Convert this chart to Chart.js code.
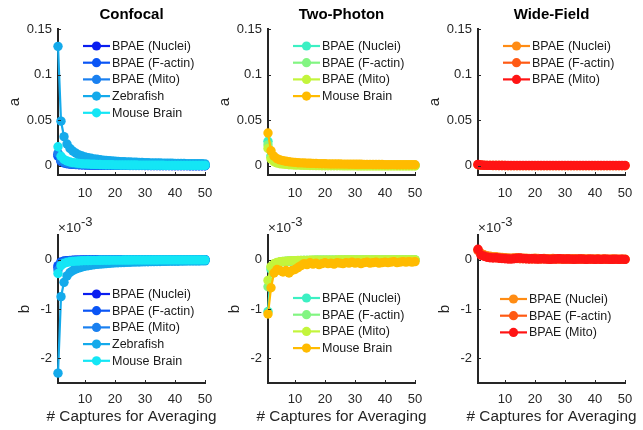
<!DOCTYPE html>
<html>
<head>
<meta charset="utf-8">
<script src="https://cdn.jsdelivr.net/npm/chart.js@4.4.0/dist/chart.umd.min.js"></script>
<style>
  body { margin: 0; background: #fff; width: 643px; height: 430px; position: relative; overflow: hidden; }
  canvas { position: absolute; }
</style>
</head>
<body>
<canvas id="confA" width="235" height="215" style="left:0px;top:0px"></canvas>
<canvas id="tpA" width="235" height="215" style="left:210px;top:0px"></canvas>
<canvas id="wfA" width="223" height="215" style="left:420px;top:0px"></canvas>
<canvas id="confB" width="235" height="215" style="left:0px;top:215px"></canvas>
<canvas id="tpB" width="235" height="215" style="left:210px;top:215px"></canvas>
<canvas id="wfB" width="223" height="215" style="left:420px;top:215px"></canvas>
<script>
// x values (number of captures)
const captures = [1,2,3,4,5,6,7,8,9,10,11,12,13,14,15,16,17,18,19,20,21,22,23,24,25,26,27,28,29,30,31,32,33,34,35,36,37,38,39,40,41,42,43,44,45,46,47,48,49,50];
const xTicks = [10, 20, 30, 40, 50];
const aTicks = [0, 0.05, 0.1, 0.15];
const aTickLabels = ['0', '0.05', '0.1', '0.15'];
const bTicks = [-2, -1, 0];          // in units of 1e-3
const bTickLabels = ['-2', '-1', '0'];

// series names
const confNames = ['BPAE (Nuclei)', 'BPAE (F-actin)', 'BPAE (Mito)', 'Zebrafish', 'Mouse Brain'];
const tpNames = ['BPAE (Nuclei)', 'BPAE (F-actin)', 'BPAE (Mito)', 'Mouse Brain'];
const wfNames = ['BPAE (Nuclei)', 'BPAE (F-actin)', 'BPAE (Mito)'];

// colours
const confColors = ['#0a1ef0', '#0a55f5', '#1a80f0', '#14aaeb', '#14e6f5'];
const tpColors = ['#3cf0c3', '#82f582', '#c3f53c', '#ffbb00'];
const wfColors = ['#ff8c14', '#ff5a14', '#ff1414'];

// Confocal, a
const confA_nuclei = [0.0125,0.0056,0.0037,0.0028,0.0022,0.0019,0.0016,0.0014,0.0013,0.0012,0.0011,0.0010,0.0009,0.0009,0.0008,0.0008,0.0007,0.0007,0.0007,0.0006,0.0006,0.0006,0.0006,0.0005,0.0005,0.0005,0.0005,0.0005,0.0005,0.0004,0.0004,0.0004,0.0004,0.0004,0.0004,0.0004,0.0004,0.0004,0.0003,0.0003,0.0003,0.0003,0.0003,0.0003,0.0003,0.0003,0.0003,0.0003,0.0003,0.0003];
const confA_factin = [0.0105,0.0048,0.0032,0.0024,0.0019,0.0016,0.0014,0.0012,0.0011,0.0010,0.0009,0.0009,0.0008,0.0008,0.0007,0.0007,0.0006,0.0006,0.0006,0.0005,0.0005,0.0005,0.0005,0.0005,0.0004,0.0004,0.0004,0.0004,0.0004,0.0004,0.0004,0.0003,0.0003,0.0003,0.0003,0.0003,0.0003,0.0003,0.0003,0.0003,0.0003,0.0003,0.0003,0.0003,0.0002,0.0002,0.0002,0.0002,0.0002,0.0002];
const confA_mito = [0.0140,0.0065,0.0043,0.0032,0.0026,0.0022,0.0019,0.0017,0.0015,0.0014,0.0013,0.0012,0.0011,0.0010,0.0010,0.0009,0.0009,0.0008,0.0008,0.0007,0.0007,0.0007,0.0007,0.0006,0.0006,0.0006,0.0006,0.0005,0.0005,0.0005,0.0005,0.0005,0.0005,0.0005,0.0004,0.0004,0.0004,0.0004,0.0004,0.0004,0.0004,0.0004,0.0004,0.0004,0.0003,0.0003,0.0003,0.0003,0.0003,0.0003];
const confA_zebra = [0.131,0.049,0.032,0.024,0.019,0.0160,0.0138,0.0121,0.0108,0.0098,0.0090,0.0083,0.0077,0.0072,0.0067,0.0063,0.0060,0.0057,0.0054,0.0051,0.0049,0.0047,0.0045,0.0043,0.0042,0.0040,0.0039,0.0038,0.0037,0.0035,0.0034,0.0033,0.0033,0.0032,0.0031,0.0030,0.0029,0.0029,0.0028,0.0027,0.0027,0.0026,0.0026,0.0025,0.0025,0.0024,0.0024,0.0023,0.0023,0.0022];
const confA_mouse = [0.021,0.0105,0.0070,0.0053,0.0043,0.0036,0.0031,0.0027,0.0024,0.0022,0.0020,0.0018,0.0017,0.0016,0.0015,0.0014,0.0013,0.0012,0.0012,0.0011,0.0011,0.0010,0.0010,0.0010,0.0009,0.0009,0.0009,0.0008,0.0008,0.0008,0.0008,0.0007,0.0007,0.0007,0.0007,0.0007,0.0006,0.0006,0.0006,0.0006,0.0006,0.0006,0.0006,0.0005,0.0005,0.0005,0.0005,0.0005,0.0005,0.0005];

// Confocal, b (x1e-3)
const confB_nuclei = [-0.16,-0.06,-0.035,-0.025,-0.02,-0.016,-0.013,-0.011,-0.010,-0.009,-0.008,-0.007,-0.007,-0.006,-0.006,-0.005,-0.005,-0.005,-0.004,-0.004,-0.004,-0.004,-0.004,-0.004,-0.003,-0.003,-0.003,-0.003,-0.003,-0.003,-0.003,-0.003,-0.003,-0.003,-0.002,-0.002,-0.002,-0.002,-0.002,-0.002,-0.002,-0.002,-0.002,-0.002,-0.002,-0.002,-0.002,-0.002,-0.002,-0.002];
const confB_factin = [-0.12,-0.045,-0.028,-0.02,-0.016,-0.013,-0.011,-0.009,-0.008,-0.007,-0.007,-0.006,-0.006,-0.005,-0.005,-0.004,-0.004,-0.004,-0.004,-0.003,-0.003,-0.003,-0.003,-0.003,-0.003,-0.003,-0.002,-0.002,-0.002,-0.002,-0.002,-0.002,-0.002,-0.002,-0.002,-0.002,-0.002,-0.002,-0.002,-0.002,-0.001,-0.001,-0.001,-0.001,-0.001,-0.001,-0.001,-0.001,-0.001,-0.001];
const confB_mito = [-0.21,-0.08,-0.05,-0.035,-0.028,-0.022,-0.019,-0.016,-0.014,-0.012,-0.011,-0.010,-0.009,-0.009,-0.008,-0.007,-0.007,-0.007,-0.006,-0.006,-0.006,-0.005,-0.005,-0.005,-0.005,-0.004,-0.004,-0.004,-0.004,-0.004,-0.004,-0.004,-0.003,-0.003,-0.003,-0.003,-0.003,-0.003,-0.003,-0.003,-0.003,-0.003,-0.003,-0.002,-0.002,-0.002,-0.002,-0.002,-0.002,-0.002];
const confB_zebra = [-2.3,-0.75,-0.46,-0.33,-0.26,-0.22,-0.19,-0.165,-0.148,-0.134,-0.122,-0.112,-0.103,-0.096,-0.089,-0.084,-0.079,-0.074,-0.070,-0.066,-0.063,-0.060,-0.057,-0.054,-0.052,-0.050,-0.048,-0.046,-0.044,-0.043,-0.041,-0.040,-0.039,-0.037,-0.036,-0.035,-0.034,-0.033,-0.032,-0.031,-0.031,-0.030,-0.029,-0.028,-0.028,-0.027,-0.026,-0.026,-0.025,-0.025];
const confB_mouse = [-0.28,-0.12,-0.075,-0.055,-0.043,-0.035,-0.030,-0.026,-0.023,-0.020,-0.018,-0.017,-0.015,-0.014,-0.013,-0.012,-0.011,-0.011,-0.010,-0.010,-0.009,-0.009,-0.008,-0.008,-0.008,-0.007,-0.007,-0.007,-0.007,-0.006,-0.006,-0.006,-0.006,-0.006,-0.005,-0.005,-0.005,-0.005,-0.005,-0.005,-0.005,-0.004,-0.004,-0.004,-0.004,-0.004,-0.004,-0.004,-0.004,-0.004];

// Two-photon, a
const tpA_nuclei = [0.027,0.011,0.0070,0.0052,0.0042,0.0035,0.0030,0.0027,0.0024,0.0022,0.0020,0.0018,0.0017,0.0016,0.0015,0.0014,0.0013,0.0012,0.0012,0.0011,0.0011,0.0010,0.0010,0.0010,0.0009,0.0009,0.0009,0.0008,0.0008,0.0008,0.0008,0.0007,0.0007,0.0007,0.0007,0.0007,0.0006,0.0006,0.0006,0.0006,0.0006,0.0006,0.0006,0.0005,0.0005,0.0005,0.0005,0.0005,0.0005,0.0005];
const tpA_factin = [0.023,0.0095,0.0060,0.0045,0.0036,0.0030,0.0026,0.0023,0.0021,0.0019,0.0017,0.0016,0.0015,0.0014,0.0013,0.0012,0.0011,0.0011,0.0010,0.0010,0.0009,0.0009,0.0009,0.0008,0.0008,0.0008,0.0007,0.0007,0.0007,0.0007,0.0007,0.0006,0.0006,0.0006,0.0006,0.0006,0.0005,0.0005,0.0005,0.0005,0.0005,0.0005,0.0005,0.0005,0.0004,0.0004,0.0004,0.0004,0.0004,0.0004];
const tpA_mito = [0.019,0.0075,0.0045,0.0032,0.0024,0.0019,0.0016,0.0013,0.0011,0.0009,0.0008,0.0007,0.0006,0.0005,0.0004,0.0004,0.0003,0.0003,0.0002,0.0002,0.0002,0.0001,0.0001,0.0001,0.0001,0.0000,0.0000,0.0000,0.0000,0.0000,-0.0001,-0.0001,-0.0001,-0.0001,-0.0001,-0.0001,-0.0001,-0.0001,-0.0001,-0.0001,-0.0001,-0.0001,-0.0001,-0.0001,-0.0001,-0.0001,-0.0001,-0.0001,-0.0001,-0.0001];
const tpA_mouse = [0.036,0.0165,0.0105,0.0080,0.0066,0.0057,0.0050,0.0045,0.0041,0.0038,0.0035,0.0033,0.0031,0.0029,0.0028,0.0027,0.0026,0.0025,0.0024,0.0023,0.0022,0.0021,0.0021,0.0020,0.0020,0.0019,0.0019,0.0018,0.0018,0.0017,0.0017,0.0017,0.0016,0.0016,0.0016,0.0015,0.0015,0.0015,0.0015,0.0014,0.0014,0.0014,0.0014,0.0013,0.0013,0.0013,0.0013,0.0013,0.0012,0.0012];

// Two-photon, b (x1e-3)
const tpB_nuclei = [-1.05,-0.20,-0.10,-0.07,-0.05,-0.04,-0.035,-0.03,-0.026,-0.023,-0.021,-0.019,-0.017,-0.016,-0.015,-0.014,-0.013,-0.012,-0.012,-0.011,-0.011,-0.010,-0.010,-0.009,-0.009,-0.009,-0.008,-0.008,-0.008,-0.008,-0.007,-0.007,-0.007,-0.007,-0.007,-0.006,-0.006,-0.006,-0.006,-0.006,-0.006,-0.006,-0.005,-0.005,-0.005,-0.005,-0.005,-0.005,-0.005,-0.005];
const tpB_factin = [-0.55,-0.16,-0.09,-0.06,-0.045,-0.037,-0.031,-0.027,-0.024,-0.021,-0.019,-0.017,-0.016,-0.015,-0.014,-0.013,-0.012,-0.011,-0.011,-0.010,-0.010,-0.009,-0.009,-0.009,-0.008,-0.008,-0.008,-0.007,-0.007,-0.007,-0.007,-0.007,-0.006,-0.006,-0.006,-0.006,-0.006,-0.006,-0.005,-0.005,-0.005,-0.005,-0.005,-0.005,-0.005,-0.005,-0.005,-0.004,-0.004,-0.004];
const tpB_mito = [-0.42,-0.14,-0.08,-0.055,-0.042,-0.034,-0.029,-0.025,-0.022,-0.020,-0.018,-0.016,-0.015,-0.014,-0.013,-0.012,-0.011,-0.011,-0.010,-0.010,-0.009,-0.009,-0.009,-0.008,-0.008,-0.008,-0.007,-0.007,-0.007,-0.007,-0.006,-0.006,-0.006,-0.006,-0.006,-0.006,-0.005,-0.005,-0.005,-0.005,-0.005,-0.005,-0.005,-0.005,-0.004,-0.004,-0.004,-0.004,-0.004,-0.004];
const tpB_mouse = [-1.1,-0.57,-0.27,-0.20,-0.22,-0.25,-0.22,-0.27,-0.22,-0.20,-0.16,-0.12,-0.08,-0.10,-0.06,-0.09,-0.07,-0.10,-0.08,-0.06,-0.08,-0.07,-0.09,-0.06,-0.07,-0.08,-0.06,-0.07,-0.05,-0.07,-0.06,-0.08,-0.06,-0.05,-0.07,-0.06,-0.05,-0.07,-0.06,-0.05,-0.06,-0.05,-0.04,-0.06,-0.05,-0.04,-0.05,-0.04,-0.05,-0.04];

// Wide-field, a
const wfA_nuclei = [0.0012,0.0008,0.0006,0.0005,0.0005,0.0004,0.0004,0.0004,0.0004,0.0003,0.0003,0.0003,0.0003,0.0003,0.0003,0.0003,0.0003,0.0003,0.0003,0.0003,0.0003,0.0003,0.0003,0.0003,0.0003,0.0003,0.0003,0.0003,0.0003,0.0003,0.0003,0.0003,0.0003,0.0003,0.0003,0.0003,0.0003,0.0003,0.0003,0.0003,0.0003,0.0003,0.0003,0.0003,0.0003,0.0003,0.0003,0.0003,0.0003,0.0003];
const wfA_factin = [0.0013,0.0008,0.0006,0.0005,0.0005,0.0004,0.0004,0.0004,0.0004,0.0004,0.0003,0.0003,0.0003,0.0003,0.0003,0.0003,0.0003,0.0003,0.0003,0.0003,0.0003,0.0003,0.0003,0.0003,0.0003,0.0003,0.0003,0.0003,0.0003,0.0003,0.0003,0.0003,0.0003,0.0003,0.0003,0.0003,0.0003,0.0003,0.0003,0.0003,0.0003,0.0003,0.0003,0.0003,0.0003,0.0003,0.0003,0.0003,0.0003,0.0003];
const wfA_mito = [0.0016,0.0009,0.0007,0.0006,0.0005,0.0005,0.0005,0.0004,0.0004,0.0004,0.0004,0.0004,0.0004,0.0004,0.0004,0.0004,0.0004,0.0004,0.0004,0.0004,0.0004,0.0004,0.0004,0.0004,0.0004,0.0004,0.0004,0.0004,0.0004,0.0004,0.0004,0.0004,0.0004,0.0004,0.0004,0.0004,0.0004,0.0004,0.0004,0.0004,0.0004,0.0004,0.0004,0.0004,0.0004,0.0004,0.0004,0.0004,0.0004,0.0004];

// Wide-field, b (x1e-3)
const wfB_nuclei = [0.20,0.13,0.10,0.08,0.07,0.06,0.06,0.05,0.045,0.04,0.035,0.03,0.035,0.04,0.035,0.03,0.03,0.025,0.025,0.03,0.025,0.02,0.025,0.02,0.02,0.025,0.02,0.02,0.015,0.02,0.02,0.015,0.02,0.015,0.015,0.02,0.015,0.015,0.01,0.015,0.015,0.01,0.015,0.01,0.01,0.015,0.01,0.01,0.01,0.01];
const wfB_factin = [0.18,0.11,0.08,0.06,0.05,0.045,0.04,0.035,0.03,0.03,0.025,0.025,0.03,0.025,0.02,0.02,0.02,0.02,0.015,0.02,0.015,0.015,0.02,0.015,0.01,0.015,0.01,0.015,0.01,0.01,0.01,0.01,0.015,0.01,0.01,0.01,0.005,0.01,0.01,0.005,0.01,0.005,0.01,0.005,0.005,0.01,0.005,0.005,0.005,0.005];
const wfB_mito = [0.21,0.09,0.07,0.05,0.04,0.035,0.04,0.03,0.025,0.02,0.015,0.01,0.02,0.03,0.035,0.025,0.02,0.015,0.02,0.015,0.01,0.02,0.015,0.01,0.005,0.01,0.015,0.02,0.015,0.01,0.015,0.01,0.005,0.01,0.015,0.01,0.005,0.01,0.01,0.005,0.01,0.005,0.01,0.01,0.005,0.005,0.01,0.005,0.01,0.005];

const xLabel = '# Captures for Averaging';
const ink = '#262626';
const fontFamily = '"Liberation Sans", Arial, Helvetica, sans-serif';
Chart.defaults.font.family = fontFamily;

// ticks inside the axes, title, x label, exponent label and legend (MATLAB style)
const panelPlugin = {
  id: 'panel',
  afterDraw(chart, args, opts) {
    const ctx = chart.ctx, area = chart.chartArea;
    const xs = chart.scales.x, ys = chart.scales.y;
    const mid = (area.left + area.right) / 2;
    ctx.save();
    ctx.strokeStyle = ink;
    ctx.lineWidth = 1;
    xs.ticks.forEach(t => {
      const px = Math.round(xs.getPixelForValue(t.value)) + 0.5;
      ctx.beginPath(); ctx.moveTo(px, area.bottom); ctx.lineTo(px, area.bottom - 3); ctx.stroke();
    });
    ys.ticks.forEach(t => {
      const py = Math.round(ys.getPixelForValue(t.value)) + 0.5;
      ctx.beginPath(); ctx.moveTo(area.left, py); ctx.lineTo(area.left + 3, py); ctx.stroke();
    });

    if (opts.title) {
      ctx.fillStyle = '#000';
      ctx.font = 'bold 15px ' + fontFamily;
      ctx.textAlign = 'center'; ctx.textBaseline = 'middle';
      ctx.fillText(opts.title, mid, 15);
    }
    if (opts.xLabel) {
      ctx.fillStyle = ink;
      ctx.font = '15.3px ' + fontFamily;
      ctx.textAlign = 'center'; ctx.textBaseline = 'middle';
      ctx.fillText(opts.xLabel, mid, area.bottom + 34);
    }
    if (opts.exponent) {
      ctx.fillStyle = ink;
      ctx.textAlign = 'left'; ctx.textBaseline = 'alphabetic';
      ctx.font = '13.5px ' + fontFamily;
      ctx.fillText('\u00d710', area.left, area.top - 3);
      const w = ctx.measureText('\u00d710').width;
      ctx.font = '13px ' + fontFamily;
      ctx.fillText('-3', area.left + w, area.top - 9);
    }
    if (opts.legend) {
      const lx = area.left + opts.legend.dx;
      let ly = opts.legend.y;
      ctx.font = '12.5px ' + fontFamily;
      ctx.textAlign = 'left'; ctx.textBaseline = 'middle';
      chart.data.datasets.forEach(ds => {
        ctx.strokeStyle = ds.borderColor; ctx.lineWidth = 2.2;
        ctx.beginPath(); ctx.moveTo(lx, ly); ctx.lineTo(lx + 27, ly); ctx.stroke();
        ctx.fillStyle = ds.borderColor;
        ctx.beginPath(); ctx.arc(lx + 13.5, ly, 4.6, 0, Math.PI * 2); ctx.fill();
        ctx.fillStyle = '#1a1a1a';
        ctx.fillText(ds.label, lx + 29, ly + 0.5);
        ly += 16.7;
      });
    }
    ctx.restore();
  }
};

function makePanel(id, names, colors, series, p) {
  const n = series.length;
  const canvas = document.getElementById(id);
  new Chart(canvas, {
    type: 'line',
    data: {
      datasets: series.map((vals, i) => ({
        label: names[i],
        data: captures.map((x, j) => ({ x: x, y: vals[j] })),
        borderColor: colors[i],
        backgroundColor: colors[i],
        borderWidth: 2.2,
        pointRadius: 4.7,
        pointBorderWidth: 0,
        pointHoverRadius: 4.7,
        tension: 0,
        clip: false,
        order: n - i
      }))
    },
    options: {
      responsive: false,
      animation: false,
      events: [],
      layout: { padding: { top: p.padTop, right: canvas.width - 205, left: 0, bottom: 0 } },
      plugins: {
        legend: { display: false },
        tooltip: { enabled: false },
        panel: { title: p.title, exponent: p.exponent, legend: p.legend, xLabel: p.xTitle ? xLabel : null }
      },
      scales: {
        x: {
          type: 'linear', min: 1, max: 50,
          afterBuildTicks: s => { s.ticks = xTicks.map(v => ({ value: v })); },
          afterFit: s => { s.height = p.xHeight; s.paddingLeft = 0; s.paddingRight = 0; },
          grid: { display: true, drawOnChartArea: false, drawTicks: false },
          border: { color: ink, width: 2 },
          ticks: { color: ink, font: { size: 13 }, padding: p.xTickPad, maxRotation: 0, autoSkip: false }
        },
        y: {
          type: 'linear', min: p.yMin, max: p.yMax,
          afterBuildTicks: s => { s.ticks = p.yTicks.map(v => ({ value: v })); },
          afterFit: s => { s.width = 58; s.paddingTop = 0; s.paddingBottom = 0; },
          grid: { display: true, drawOnChartArea: false, drawTicks: false },
          border: { color: ink, width: 2 },
          ticks: {
            color: ink, font: { size: 13 }, padding: 6, autoSkip: false,
            callback: v => p.yLabels[p.yTicks.indexOf(v)]
          },
          title: { display: true, text: p.yTitle, color: ink, font: { size: 15.3 }, padding: { top: p.yTitlePad, bottom: 0 } }
        }
      }
    },
    plugins: [panelPlugin]
  });
}

const topRow = { padTop: 29, xHeight: 40, xTickPad: 11, xTitle: false, yMin: -0.01, yMax: 0.15, yTicks: aTicks, yLabels: aTickLabels, yTitle: 'a', yTitlePad: 6, exponent: false };
const botRow = { padTop: 20, xHeight: 47, xTickPad: 9, xTitle: true, yMin: -2.5, yMax: 0.5, yTicks: bTicks, yLabels: bTickLabels, yTitle: 'b', yTitlePad: 16, exponent: true };

makePanel('confA', confNames, confColors, [confA_nuclei, confA_factin, confA_mito, confA_zebra, confA_mouse],
  Object.assign({}, topRow, { title: 'Confocal', legend: { dx: 25, y: 46 } }));
makePanel('tpA', tpNames, tpColors, [tpA_nuclei, tpA_factin, tpA_mito, tpA_mouse],
  Object.assign({}, topRow, { title: 'Two-Photon', legend: { dx: 25, y: 46 } }));
makePanel('wfA', wfNames, wfColors, [wfA_nuclei, wfA_factin, wfA_mito],
  Object.assign({}, topRow, { title: 'Wide-Field', legend: { dx: 25, y: 46 } }));
makePanel('confB', confNames, confColors, [confB_nuclei, confB_factin, confB_mito, confB_zebra, confB_mouse],
  Object.assign({}, botRow, { legend: { dx: 25, y: 79 } }));
makePanel('tpB', tpNames, tpColors, [tpB_nuclei, tpB_factin, tpB_mito, tpB_mouse],
  Object.assign({}, botRow, { legend: { dx: 25, y: 83 } }));
makePanel('wfB', wfNames, wfColors, [wfB_nuclei, wfB_factin, wfB_mito],
  Object.assign({}, botRow, { legend: { dx: 22, y: 84 } }));
</script>
</body>
</html>
